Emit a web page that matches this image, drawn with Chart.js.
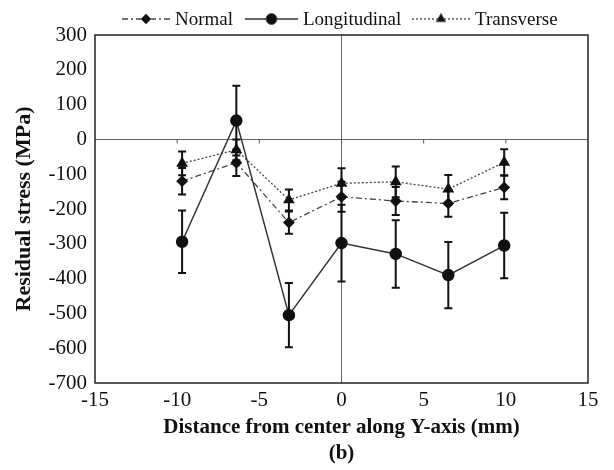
<!DOCTYPE html>
<html>
<head>
<meta charset="utf-8">
<script src="https://cdn.jsdelivr.net/npm/chart.js@4"></script>
<style>
  html, body { margin: 0; padding: 0; background: #fff; }
  #wrap { width: 614px; height: 470px; position: relative; }
</style>
</head>
<body>
<div id="wrap"><canvas id="chart"></canvas></div>
<script>
// positions along Y-axis (mm)
const positions = [-9.7, -6.4, -3.2, 0, 3.3, 6.5, 9.9];

const normal = [-120, -67, -239, -165, -177, -184, -138];
const normalErr = [38, 38, 32, 43, 40, 38, 34];

const longitudinal = [-294, 54, -505, -298, -329, -390, -305];
const longitudinalErr = [90, 100, 92, 110, 97, 95, 94];

const transverse = [-69, -30, -174, -126, -122, -143, -66];
const transverseErr = [34, 30, 30, 43, 44, 41, 38];

const xTicks = [-15, -10, -5, 0, 5, 10, 15];
const yTicks = [300, 200, 100, 0, -100, -200, -300, -400, -500, -600, -700];

const FONT = "'Liberation Serif', 'Times New Roman', serif";
const INK = '#111';

function points(vals) {
  return vals.map((v, i) => ({ x: positions[i], y: v }));
}

// frame, zero-axis tick marks, error bars, legend
const extras = {
  id: 'extras',
  afterDatasetsDraw(chart) {
    const ctx = chart.ctx;
    const ys = chart.scales.y;

    // error bars
    ctx.save();
    ctx.strokeStyle = INK;
    ctx.lineWidth = 2;
    chart.data.datasets.forEach((ds, di) => {
      const meta = chart.getDatasetMeta(di);
      meta.data.forEach((pt, i) => {
        const e = ds.errors[i];
        const v = ds.data[i].y;
        const yTop = ys.getPixelForValue(v + e);
        const yBot = ys.getPixelForValue(v - e);
        const x = pt.x;
        ctx.beginPath();
        ctx.moveTo(x, yTop); ctx.lineTo(x, yBot);
        ctx.moveTo(x - 4, yTop); ctx.lineTo(x + 4, yTop);
        ctx.moveTo(x - 4, yBot); ctx.lineTo(x + 4, yBot);
        ctx.stroke();
      });
    });
    ctx.restore();
  },
  afterDraw(chart) {
    const ctx = chart.ctx;
    const xs = chart.scales.x, ys = chart.scales.y;
    const a = chart.chartArea;
    ctx.save();
    // frame
    ctx.strokeStyle = '#222';
    ctx.lineWidth = 1.5;
    ctx.strokeRect(a.left, a.top, a.right - a.left, a.bottom - a.top);

    // small ticks on the zero line
    const y0 = ys.getPixelForValue(0);
    ctx.strokeStyle = '#555';
    ctx.lineWidth = 1;
    xTicks.forEach(t => {
      if (t === -15 || t === 15) return;
      const x = xs.getPixelForValue(t);
      ctx.beginPath();
      ctx.moveTo(x, y0); ctx.lineTo(x, y0 + 4);
      ctx.stroke();
    });

    // legend
    const items = [
      { label: 'Normal', x0: 122, x1: 170, text: 175, ds: 0 },
      { label: 'Longitudinal', x0: 245, x1: 298, text: 303, ds: 1 },
      { label: 'Transverse', x0: 412, x1: 470, text: 475, ds: 2 }
    ];
    const ly = 19;
    ctx.font = '19px ' + FONT;
    ctx.textBaseline = 'middle';
    ctx.fillStyle = INK;
    items.forEach(it => {
      const ds = chart.data.datasets[it.ds];
      ctx.save();
      ctx.strokeStyle = ds.borderColor;
      ctx.lineWidth = ds.borderWidth;
      ctx.setLineDash(ds.borderDash || []);
      ctx.beginPath();
      ctx.moveTo(it.x0, ly); ctx.lineTo(it.x1, ly);
      ctx.stroke();
      ctx.restore();
      Chart.helpers.drawPoint(ctx, {
        pointStyle: ds.pointStyle,
        radius: ds.pointRadius,
        borderWidth: 1
      }, (it.x0 + it.x1) / 2, ly);
      ctx.fillStyle = INK;
      ctx.fillText(it.label, it.text, ly + 1);
    });
    ctx.restore();
  }
};

Chart.defaults.font.family = FONT;
Chart.defaults.color = INK;

new Chart(document.getElementById('chart'), {
  type: 'line',
  data: {
    datasets: [
      {
        label: 'Normal',
        data: points(normal),
        errors: normalErr,
        borderColor: '#444',
        borderWidth: 1.3,
        borderDash: [6, 3, 2, 3],
        pointStyle: 'rectRot',
        pointRadius: 5,
        pointBackgroundColor: INK,
        pointBorderColor: INK
      },
      {
        label: 'Longitudinal',
        data: points(longitudinal),
        errors: longitudinalErr,
        borderColor: '#333',
        borderWidth: 1.5,
        pointStyle: 'circle',
        pointRadius: 5.5,
        pointBackgroundColor: INK,
        pointBorderColor: INK
      },
      {
        label: 'Transverse',
        data: points(transverse),
        errors: transverseErr,
        borderColor: '#444',
        borderWidth: 1.3,
        borderDash: [2, 2],
        pointStyle: 'triangle',
        pointRadius: 5.5,
        pointBackgroundColor: INK,
        pointBorderColor: INK
      }
    ]
  },
  options: {
    responsive: true,
    maintainAspectRatio: false,
    animation: false,
    layout: { padding: { left: 0, right: 26, top: 35, bottom: 0 } },
    plugins: {
      legend: { display: false },
      tooltip: { enabled: false }
    },
    scales: {
      x: {
        type: 'linear',
        min: -15, max: 15,
        afterBuildTicks: s => { s.ticks = xTicks.map(v => ({ value: v })); },
        afterFit: s => { s.height = 87; },
        border: { display: false },
        grid: {
          drawTicks: false,
          color: c => c.tick && c.tick.value === 0 ? '#666' : 'transparent',
          lineWidth: 1
        },
        ticks: { font: { size: 21 }, color: INK, padding: 5, maxRotation: 0 },
        title: {
          display: true,
          text: ['Distance from center along Y-axis (mm)', '(b)'],
          font: { size: 21, weight: 'bold', lineHeight: 1.25 },
          color: INK,
          padding: { top: 0, bottom: 3 }
        }
      },
      y: {
        min: -700, max: 300,
        afterBuildTicks: s => { s.ticks = yTicks.map(v => ({ value: v })); },
        afterFit: s => { s.width = 95; },
        border: { display: false },
        grid: {
          drawTicks: false,
          color: c => c.tick && c.tick.value === 0 ? '#666' : 'transparent',
          lineWidth: 1
        },
        ticks: { font: { size: 21 }, color: INK, padding: 8 },
        title: {
          display: true,
          text: 'Residual stress (MPa)',
          font: { size: 22, weight: 'bold' },
          color: INK,
          padding: { top: 11, bottom: 0 }
        }
      }
    }
  },
  plugins: [extras]
});
</script>
</body>
</html>
